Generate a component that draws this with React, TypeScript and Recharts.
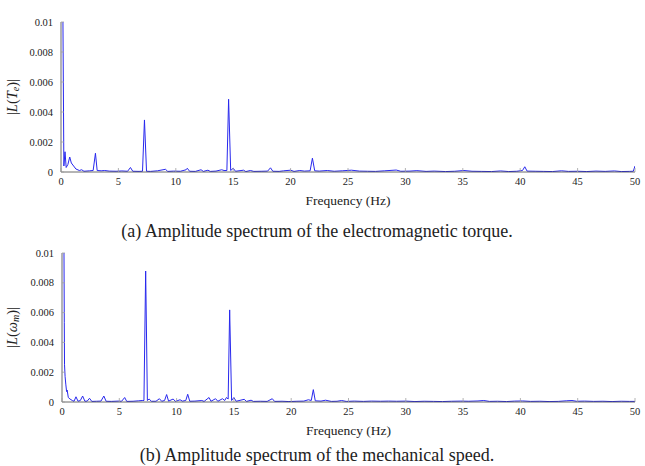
import { Line, LineChart, XAxis, YAxis } from "recharts";

const xTicks = [0, 5, 10, 15, 20, 25, 30, 35, 40, 45, 50];
const yTicks = [0, 0.002, 0.004, 0.006, 0.008, 0.01];
const yTickLabels = ["0", "0.002", "0.004", "0.006", "0.008", "0.01"];

// |L(Te)| — electromagnetic torque spectrum
const torqueFreq = [
  0, 0.15, 0.25, 0.35, 0.45, 0.6, 0.76, 0.9, 1.1, 1.3, 1.6, 1.8, 2.0, 2.5, 2.8, 3.0, 3.15, 3.5, 3.8,
  4.2, 4.8, 5.3, 5.8, 6.05, 6.25, 6.8, 7.1, 7.27, 7.45, 7.8, 8.4, 9.1, 9.3, 9.8, 10.4, 10.9, 11.0,
  11.2, 11.7, 12.2, 12.4, 12.8, 13.0, 13.5, 14.0, 14.2, 14.45, 14.6, 14.78, 15.0, 15.2, 15.9, 16.1,
  16.5, 16.8, 17.5, 18.0, 18.25, 18.45, 19.0, 19.4, 20.0, 20.3, 20.8, 21.2, 21.7, 21.9, 22.1, 22.5,
  23.2, 23.8, 24.5, 25.3, 26.0, 26.7, 27.4, 28.2, 29.2, 29.6, 30.4, 31.0, 31.8, 32.5, 33.5, 34.3,
  35.1, 35.8, 36.6, 37.5, 38.3, 39.0, 39.7, 40.2, 40.4, 40.6, 41.3, 42.0, 42.8, 43.6, 44.2, 45.0,
  45.8, 46.6, 47.4, 48.2, 48.8, 49.5, 49.85, 50,
];
const torqueAmp = [
  0.0125, 0.0125, 0.0004, 0.00135, 0.0003, 0.0005, 0.001, 0.0006, 0.0004, 0.0002, 0.0001, 0.00015,
  0.00005, 0.00008, 0.0001, 0.00125, 0.0001, 0.00008, 0.0001, 0.00006, 0.00005, 0.00007, 0.00005,
  0.0003, 0.00005, 0.00004, 0.00005, 0.00347, 0.00005, 0.00004, 0.00008, 0.00018, 0.00004, 0.00006,
  0.00005, 0.00015, 0.00025, 0.00005, 0.00004, 0.00015, 0.00004, 0.00012, 0.00004, 0.00006, 0.00015,
  0.0001, 0.0001, 0.00485, 0.0001, 0.00025, 0.00005, 0.00012, 0.00003, 0.0001, 0.00004, 0.00005,
  0.00006, 0.00028, 0.00005, 0.00004, 0.00008, 0.00012, 0.00004, 0.0001, 0.00006, 0.00008, 0.00092,
  0.00008, 0.00006, 0.0001, 0.00005, 0.00008, 0.00012, 0.00006, 0.00005, 0.00004, 0.00008, 0.00013,
  0.00005, 0.00006, 0.00009, 0.00004, 0.00006, 0.00003, 0.00005, 0.0001, 0.00005, 0.00004, 0.00003,
  0.00007, 0.00003, 0.00005, 0.0001, 0.00035, 0.00006, 0.00005, 0.00004, 0.00003, 0.00008, 0.00004,
  0.00005, 0.00003, 0.00006, 0.00004, 0.00007, 0.00003, 0.00004, 0.00005, 0.0004,
];

// |L(ωm)| — mechanical speed spectrum
const speedFreq = [
  0, 0.04, 0.08, 0.12, 0.16, 0.2, 0.22, 0.27, 0.33, 0.4, 0.45, 0.55, 0.7, 0.9,
  1.05, 1.22, 1.4, 1.6, 1.8, 2.0, 2.2, 2.4, 2.6, 3.0, 3.4, 3.65, 3.85, 4.3, 4.9, 5.2, 5.47, 5.65, 6.2,
  6.7, 7.0, 7.15, 7.3, 7.45, 7.6, 7.8, 8.2, 8.5, 8.7, 8.95, 9.13, 9.3, 9.7, 9.9, 10.3, 10.5, 10.8,
  10.97, 11.15, 11.6, 12.2, 12.4, 12.83, 13.0, 13.4, 13.6, 14.0, 14.2, 14.35, 14.5, 14.63, 14.8, 15.0,
  15.2, 15.9, 16.1, 16.5, 16.7, 17.3, 17.9, 18.35, 18.55, 19.2, 19.8, 20.5, 21.1, 21.5, 21.75, 21.93,
  22.1, 22.6, 23.0, 23.5, 24.0, 24.4, 24.8, 25.5, 26.3, 27.0, 27.8, 28.5, 29.2, 30.0, 30.8, 31.6, 32.4,
  33.2, 34.0, 34.8, 35.5, 36.3, 36.8, 37.3, 38.0, 38.8, 39.5, 40.2, 40.9, 41.7, 42.5, 43.3, 44.0,
  44.5, 44.9, 45.6, 46.4, 47.2, 48.0, 48.8, 49.5, 50,
];
const speedAmp = [
  0.0125, 0.0125, 0.0125, 0.0125, 0.0125, 0.00535, 0.0025, 0.0017,
  0.0012, 0.0007, 0.0008, 0.0003, 0.0002, 0.0001, 0.00005, 0.00035, 0.00005, 0.0001, 0.0004, 0.00005,
  0.00006, 0.00025, 0.00004, 0.00005, 0.00006, 0.0004, 0.00005, 0.00004, 0.00006, 0.00005, 0.0003,
  0.00004, 0.00005, 0.00008, 0.0001, 0.0001, 0.00879, 0.0001, 0.0002, 0.00005, 0.00005, 0.00022,
  0.00005, 0.0001, 0.0005, 0.00006, 0.0002, 0.00004, 0.00015, 0.00006, 0.0001, 0.00052, 0.00005,
  0.00006, 0.0001, 0.00004, 0.0003, 0.00005, 0.00022, 0.00005, 0.00022, 0.0001, 0.0003, 0.0002,
  0.00618, 0.0001, 0.0003, 0.00005, 0.00018, 0.00004, 0.00012, 0.00004, 0.00005, 0.00004, 0.00022,
  0.00004, 0.00005, 0.00003, 0.00005, 0.00006, 0.00015, 0.0001, 0.00083, 0.00008, 0.00006, 0.00012,
  0.00004, 0.00005, 0.0001, 0.00004, 0.00006, 0.00004, 0.00006, 0.00005, 0.00006, 0.00005, 0.00006,
  0.00003, 0.00005, 0.00004, 0.00003, 0.00005, 0.00006, 0.00005, 0.00007, 0.0001, 0.00004, 0.00005,
  0.00003, 0.00006, 0.00007, 0.00004, 0.00005, 0.00003, 0.00004, 0.00008, 0.0001, 0.00005, 0.00006,
  0.00004, 0.00005, 0.00003, 0.00005, 0.00004, 0.00004,
];

const torqueData = torqueFreq.map((f, i) => ({ f, v: torqueAmp[i] }));
const speedData = speedFreq.map((f, i) => ({ f, v: speedAmp[i] }));

const SERIF = "Liberation Serif";
const serifStyle = { fontFamily: SERIF };
const TICK_GREY = "#a0a0a0";

function XTick({ x, y, payload }: any) {
  return (
    <g>
      <line x1={x} x2={x} y1={y} y2={y - 4} stroke={TICK_GREY} strokeWidth={0.8} />
      <text x={x} y={y + 13} textAnchor="middle" style={serifStyle} fontSize={10.5} fill="#222" stroke="none">
        {payload.value}
      </text>
    </g>
  );
}

function YTick({ x, y, index }: any) {
  return (
    <g>
      <line x1={x} x2={x + 3} y1={y} y2={y} stroke={TICK_GREY} strokeWidth={0.8} />
      <text x={x - 8} y={y + 3.5} textAnchor="end" style={serifStyle} fontSize={10.5} fill="#222" stroke="none">
        {yTickLabels[index]}
      </text>
    </g>
  );
}

function torqueLabel({ viewBox }: any) {
  const cy = viewBox.y + viewBox.height / 2;
  return (
    <text transform={`translate(17, ${cy}) rotate(-90)`} textAnchor="middle" style={serifStyle} fontSize={14.5} fill="#222">
      <tspan>|</tspan>
      <tspan fontStyle="italic">L</tspan>
      <tspan>(</tspan>
      <tspan fontStyle="italic">T</tspan>
      <tspan fontStyle="italic" fontSize={10} dy={2}>e</tspan>
      <tspan dy={-2}>)|</tspan>
    </text>
  );
}

function speedLabel({ viewBox }: any) {
  const cy = viewBox.y + viewBox.height / 2;
  return (
    <text transform={`translate(17, ${cy}) rotate(-90)`} textAnchor="middle" style={serifStyle} fontSize={14.5} fill="#222">
      <tspan>|</tspan>
      <tspan fontStyle="italic">L</tspan>
      <tspan>(</tspan>
      <tspan fontStyle="italic">ω</tspan>
      <tspan fontStyle="italic" fontSize={10} dy={2}>m</tspan>
      <tspan dy={-2}>)|</tspan>
    </text>
  );
}

function Spectrum({ data, yLabel, height, left }: any) {
  return (
    <LineChart
      width={645}
      height={height}
      data={data}
      margin={{ top: 22, right: 10, bottom: 0, left: 0 }}
      style={serifStyle}
    >
      <XAxis
        dataKey="f"
        type="number"
        domain={[0, 50]}
        ticks={xTicks}
        allowDataOverflow
        height={36}
        tickSize={0}
        tickMargin={0}
        tickLine={false}
        tick={<XTick />}
        stroke="#444"
        strokeWidth={0.8}
        label={{
          value: "Frequency (Hz)",
          position: "insideTop",
          offset: 23,
          style: serifStyle,
          fontSize: 13.5,
          fill: "#222",
        }}
      />
      <YAxis
        type="number"
        domain={[0, 0.01]}
        ticks={yTicks}
        allowDataOverflow
        width={left}
        tickSize={0}
        tickMargin={0}
        tickLine={false}
        tick={<YTick />}
        stroke="#444"
        strokeWidth={0.8}
        label={{ content: yLabel }}
      />
      <Line
        type="linear"
        dataKey="v"
        stroke="#2828ee"
        strokeWidth={1}
        dot={false}
        isAnimationActive={false}
      />
    </LineChart>
  );
}

const captionStyle: React.CSSProperties = {
  position: "absolute",
  left: 0,
  width: 634,
  textAlign: "center",
  fontFamily: SERIF,
  fontSize: 18,
  lineHeight: "20px",
  color: "#222",
  whiteSpace: "nowrap",
};

export default function App() {
  return (
    <div
      style={{
        position: "relative",
        width: 645,
        height: 466,
        overflow: "hidden",
        background: "#fff",
        fontFamily: SERIF,
      }}
    >
      <style>{"body{margin:0}"}</style>
      <div style={{ position: "absolute", left: 0, top: 0 }}>
        <Spectrum data={torqueData} yLabel={torqueLabel} height={208} left={61} />
      </div>
      <div style={{ ...captionStyle, top: 221 }}>(a) Amplitude spectrum of the electromagnetic torque.</div>
      <div style={{ position: "absolute", left: 0, top: 231 }}>
        <Spectrum data={speedData} yLabel={speedLabel} height={207} left={62} />
      </div>
      <div style={{ ...captionStyle, top: 445 }}>(b) Amplitude spectrum of the mechanical speed.</div>
    </div>
  );
}
